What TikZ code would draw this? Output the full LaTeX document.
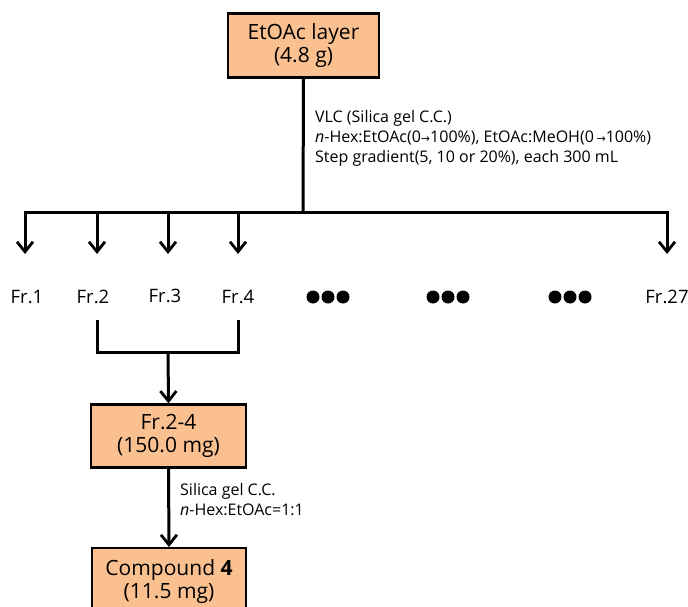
\documentclass[tikz,border=0pt]{standalone}
\usepackage{fontspec}
\setmainfont{Open Sans}
\usetikzlibrary{arrows.meta}
\definecolor{peach}{HTML}{FAC090}
\tikzset{
  box/.style={draw=black, line width=2.4pt, fill=peach, inner sep=0pt, align=center, font=\fontsize{21}{23}\selectfont},
  conn/.style={line width=3pt},
  arr/.style={conn, -{Straight Barb[length=10pt,width=16pt,line width=2.8pt]}},
  frlab/.style={font=\fontsize{18.5}{20}\selectfont, inner sep=0pt},
  note/.style={font=\fontsize{16}{20}\selectfont, align=left, anchor=north west, inner sep=0pt},
}
\newcommand{\rarr}{{\fontspec{DejaVu Sans}\fontsize{11}{12}\selectfont→}}
\begin{document}
\begin{tikzpicture}[x=1pt,y=-1pt]
\useasboundingbox (0,0) rectangle (688,607);
\begin{scope}
\clip (0,0) rectangle (688,607);
% boxes
\node[box, minimum width=151pt, minimum height=64pt] (top) at (303.5,45.5) {EtOAc layer\\(4.8 g)};
\node[box, minimum width=155pt, minimum height=63pt] (mid) at (168.5,436) {Fr.2-4\\(150.0 mg)};
\node[box, minimum width=154pt, minimum height=66pt, anchor=north] (cmp) at (169,547) {Compound \textbf{4}\\(11.5 mg)};
% coordinates
\coordinate (h) at (303,212);
\coordinate (hl) at (25,212);
\coordinate (hr) at (667,212);
\coordinate (t1) at (25,254);
\coordinate (t2) at (97,254);
\coordinate (t3) at (168,254);
\coordinate (t4) at (238,254);
\coordinate (t27) at (667,254);
\coordinate (a1) at (25,212);
\coordinate (a2) at (97,212);
\coordinate (a3) at (168,212);
\coordinate (a4) at (238,212);
\coordinate (a27) at (667,212);
\coordinate (b2) at (97,320);
\coordinate (b4) at (238,320);
\coordinate (c2) at (97,352);
\coordinate (c4) at (238,352);
\coordinate (c3) at (168,352);
% connectors
\draw[conn] (top.south) -- (h);
\draw[conn, line cap=rect] (hl) -- (hr);
\foreach \i in {1,2,3,4,27} { \draw[arr] (a\i) -- (t\i); }
\draw[conn] (b2) -- (c2) -- (c4) -- (b4);
\draw[arr] (c3) -- (mid.north);
\draw[arr] (mid.south) -- (cmp.north);
% labels
\node[frlab] (fr1) at (27,297) {Fr.1};
\node[frlab] (fr2) at (93,297) {Fr.2};
\node[frlab] (fr3) at (165,296) {Fr.3};
\node[frlab] (fr4) at (238,297) {Fr.4};
\node[frlab] (fr27) at (667,297) {Fr.27};
\foreach \x/\n in {328/d1,448/d2,570/d3} {
  \node (\n) at (\x,297) {};
  \fill (\x-15,297) circle (6.5pt) (\x,297) circle (6.5pt) (\x+15,297) circle (6.5pt);
}
\node[note] (vlc) at (315,110) {VLC (Silica gel C.C.)\\\textit{n}-Hex:EtOAc(0\rarr100\%), EtOAc:MeOH(0\,\rarr100\%)\\Step gradient(5, 10 or 20\%), each 300 mL};
\node[note] (sil) at (180,483) {Silica gel C.C.\\\textit{n}-Hex:EtOAc=1:1};
\end{scope}
\end{tikzpicture}
\end{document}
